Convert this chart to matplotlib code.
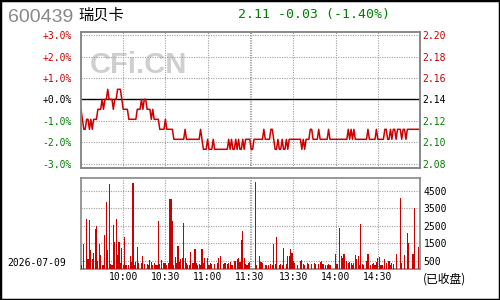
import numpy as np
import matplotlib.pyplot as plt
from matplotlib.patches import Rectangle

plt.rcParams.update({'font.family': 'DejaVu Sans Mono', 'font.size': 7})

# header / meta
code = '600439'
name = '瑞贝卡'
date = '2026-07-09'
status = '(已收盘)'
prev_close = 2.14
last_price = 2.11

pct_levels = [3, 2, 1, 0, -1, -2, -3]
vol_ticks = [500, 1500, 2500, 3500, 4500]
time_pos = [30, 60, 90, 120, 151, 181, 211]
time_labels = ['10:00', '10:30', '11:00', '11:30', '13:30', '14:00', '14:30']
lunch_break = [120, 121]

# minute prices, 9:30 .. 15:00
price = [
    2.13, 2.12, 2.11, 2.11, 2.12, 2.12, 2.11, 2.12, 2.11, 2.12,
    2.12, 2.12, 2.13, 2.13, 2.13, 2.14, 2.13, 2.14, 2.14, 2.15,
    2.14, 2.14, 2.14, 2.13, 2.14, 2.14, 2.15, 2.15, 2.15, 2.14,
    2.13, 2.13, 2.13, 2.13, 2.12, 2.12, 2.12, 2.12, 2.12, 2.12,
    2.13, 2.13, 2.13, 2.14, 2.13, 2.14, 2.14, 2.13, 2.13, 2.13,
    2.12, 2.13, 2.12, 2.12, 2.12, 2.12, 2.11, 2.11, 2.11, 2.11,
    2.12, 2.11, 2.11, 2.11, 2.11, 2.11, 2.10, 2.10, 2.10, 2.10,
    2.10, 2.10, 2.10, 2.10, 2.11, 2.10, 2.10, 2.10, 2.10, 2.10,
    2.10, 2.10, 2.10, 2.10, 2.10, 2.11, 2.10, 2.09, 2.09, 2.09,
    2.10, 2.09, 2.09, 2.09, 2.10, 2.09, 2.09, 2.09, 2.09, 2.09,
    2.09, 2.09, 2.09, 2.09, 2.09, 2.10, 2.09, 2.10, 2.09, 2.09,
    2.10, 2.09, 2.10, 2.09, 2.09, 2.10, 2.09, 2.10, 2.10, 2.10,
    2.10, 2.09, 2.09, 2.10, 2.10, 2.10, 2.10, 2.10, 2.10, 2.10,
    2.11, 2.10, 2.10, 2.10, 2.10, 2.11, 2.11, 2.10, 2.09, 2.09,
    2.10, 2.09, 2.09, 2.10, 2.09, 2.09, 2.10, 2.09, 2.10, 2.10,
    2.10, 2.10, 2.10, 2.10, 2.10, 2.10, 2.10, 2.09, 2.10, 2.09,
    2.10, 2.10, 2.10, 2.11, 2.11, 2.10, 2.10, 2.10, 2.10, 2.11,
    2.10, 2.10, 2.10, 2.10, 2.10, 2.10, 2.11, 2.10, 2.10, 2.10,
    2.10, 2.10, 2.10, 2.10, 2.10, 2.10, 2.10, 2.10, 2.10, 2.10,
    2.11, 2.10, 2.11, 2.10, 2.11, 2.10, 2.10, 2.10, 2.10, 2.10,
    2.10, 2.10, 2.10, 2.10, 2.11, 2.10, 2.10, 2.10, 2.10, 2.10,
    2.11, 2.10, 2.10, 2.10, 2.10, 2.10, 2.11, 2.11, 2.10, 2.10,
    2.11, 2.10, 2.11, 2.11, 2.10, 2.11, 2.11, 2.11, 2.10, 2.11,
    2.11, 2.10, 2.11, 2.11, 2.11, 2.11, 2.11, 2.11, 2.11, 2.11,
    2.11,
]

# minute volumes (lots)
volume = [
    230, 0, 1440, 0, 2875, 575, 2840, 1110, 575, 920,
    2300, 2490, 480, 1440, 805, 230, 230, 1955, 3870, 1110,
    4890, 290, 230, 2530, 1570, 2875, 805, 1570, 345, 1250,
    230, 1860, 230, 0, 230, 770, 420, 4950, 230, 420,
    1290, 345, 0, 345, 770, 290, 0, 290, 230, 535,
    420, 230, 345, 230, 230, 2780, 290, 535, 0, 345,
    345, 230, 345, 4025, 4025, 2780, 230, 710, 345, 1340,
    420, 575, 670, 2650, 670, 345, 230, 230, 1000, 345,
    345, 1150, 345, 230, 290, 230, 1190, 345, 670, 0,
    670, 230, 345, 290, 0, 290, 0, 345, 670, 770,
    0, 290, 345, 345, 290, 345, 420, 230, 230, 480,
    480, 575, 670, 420, 1690, 2200, 670, 290, 230, 345,
    420, 0, 0, 0, 5020, 230, 0, 770, 420, 345,
    0, 230, 230, 230, 0, 290, 230, 1440, 290, 1860,
    0, 230, 290, 230, 1250, 0, 290, 770, 770, 1190,
    960, 480, 345, 0, 230, 0, 480, 535, 290, 230,
    0, 345, 290, 0, 290, 0, 345, 290, 0, 290,
    420, 480, 290, 0, 230, 230, 290, 230, 0, 0,
    0, 860, 290, 0, 2400, 770, 670, 860, 0, 480,
    345, 420, 345, 230, 345, 805, 615, 770, 230, 2590,
    290, 230, 0, 480, 860, 0, 230, 290, 345, 230,
    420, 670, 730, 230, 230, 0, 575, 345, 0, 480,
    230, 345, 290, 0, 860, 0, 0, 4120, 345, 0,
    805, 0, 2070, 1500, 0, 0, 860, 3510, 0, 0,
    1290,
]

RED = '#cc0000'
GREEN = '#008000'
GRID = '#a0a0a0'
FRAME = '#888888'

minutes = np.arange(len(price))
levels = [prev_close * (1 + p / 100) for p in pct_levels]
vgrid = sorted(set(time_pos + lunch_break))


def level_color(p):
    return RED if p > 0 else (GREEN if p < 0 else 'black')


fig = plt.figure(figsize=(5, 3), dpi=100)

# ---- price panel
ax1 = fig.add_axes([0.162, 0.44, 0.678, 0.4533])
ax1.plot(minutes, price, color=RED, lw=1.1, zorder=3)
ax1.axhline(prev_close, color='black', lw=1.0, zorder=2)
for p, v in zip(pct_levels, levels):
    if p != 0:
        ax1.axhline(v, color=GRID, lw=0.8, ls=(0, (1, 1.2)), zorder=1)
for t in vgrid:
    ax1.axvline(t, color=GRID, lw=0.8, ls=(0, (1, 1.2)), zorder=1)
ax1.set_xlim(0, 241)
ax1.set_ylim(2.0713, 2.2073)
ax1.set_xticks([])
ax1.set_yticks(levels)
ax1.set_yticklabels([f'{p:+.1f}%' for p in pct_levels])
for lab, p in zip(ax1.get_yticklabels(), pct_levels):
    lab.set_color(level_color(p))
ax1.tick_params(axis='y', length=0, pad=6.5, labelsize=7)

ax1r = ax1.twinx()
ax1r.set_ylim(ax1.get_ylim())
ax1r.set_yticks(levels)
ax1r.set_yticklabels([f'{v:.2f}' for v in levels])
for lab, p in zip(ax1r.get_yticklabels(), pct_levels):
    lab.set_color(level_color(p))
ax1r.tick_params(axis='y', length=0, pad=1.5, labelsize=7)

# watermark
ax1.text(0.026, 0.757, 'CFi.CN', transform=ax1.transAxes, ha='left', va='center',
         family='Liberation Sans', fontweight='bold', fontsize=21, color='#cfcfcf', zorder=0.5)

# ---- volume panel
ax2 = fig.add_axes([0.162, 0.1023, 0.678, 0.3043])
ax2.bar(minutes, volume, width=0.8, color=RED, lw=0, antialiased=False, zorder=3)
for v in vol_ticks:
    ax2.axhline(v, color=GRID, lw=0.8, ls=(0, (1, 1.2)), zorder=1)
for t in vgrid:
    ax2.axvline(t, color=GRID, lw=0.8, ls=(0, (1, 1.2)), zorder=1)
ax2.set_xlim(0, 241)
ax2.set_ylim(0, 5250)
ax2.yaxis.tick_right()
ax2.set_yticks(vol_ticks)
ax2.set_yticklabels([str(v) for v in vol_ticks])
ax2.set_xticks(time_pos)
ax2.set_xticklabels(time_labels)
ax2.tick_params(length=0, labelsize=7)
ax2.tick_params(axis='y', pad=2.5)
ax2.tick_params(axis='x', pad=2)

for a in (ax1, ax1r, ax2):
    for s in a.spines.values():
        s.set_color(FRAME)
        s.set_linewidth(1.2)

# ---- header and footer texts
chg = last_price - prev_close
fig.text(8 / 500, 1 - 17 / 300, code, color='#888888', family='Liberation Sans',
         fontsize=14, va='center', ha='left')
fig.text(78 / 500, 1 - 15 / 300, name, family=['Noto Sans CJK SC'], fontsize=11,
         va='center', ha='left')
fig.text(238 / 500, 1 - 14.5 / 300,
         f'{last_price:.2f} {chg:+.2f} ({chg / prev_close * 100:+.2f}%)',
         color=GREEN, fontsize=9.5, va='center', ha='left')
fig.text(7 / 500, 1 - 263 / 300, date, fontsize=7, va='center', ha='left')
fig.text(423 / 500, 1 - 279 / 300, status, family=['Noto Sans CJK SC', 'DejaVu Sans'],
         fontsize=8.5, va='center', ha='left')

fig.patches.append(Rectangle((0, 0), 1, 1, transform=fig.transFigure, fill=False,
                             edgecolor='black', lw=2.5))

fig.savefig('out.png', dpi=100)
